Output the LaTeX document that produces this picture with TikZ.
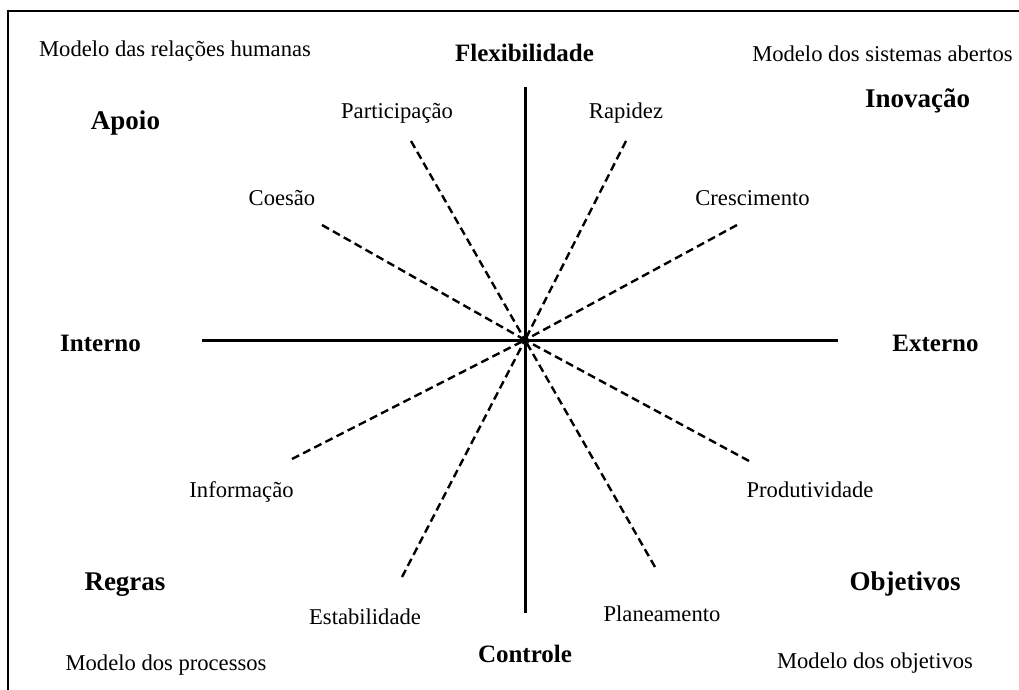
\documentclass[tikz,border=0pt]{standalone}
\usepackage{fontspec}
\setmainfont{Liberation Serif}
\begin{document}
\begin{tikzpicture}[x=1pt,y=-1pt,
  lbl/.style={inner sep=0pt,anchor=base,font=\fontsize{22.6}{27}\selectfont},
  axislbl/.style={inner sep=0pt,anchor=base,font=\fontsize{25}{30}\selectfont\bfseries},
  quadlbl/.style={inner sep=0pt,anchor=base,font=\fontsize{27}{32}\selectfont\bfseries},
  axisline/.style={line width=3pt},
  spoke/.style={line width=2.4pt,dash pattern=on 8pt off 4.5pt},
  frameline/.style={line width=1.7pt}]
\useasboundingbox (0,0) rectangle (1019,690);

% open frame: top and left edges only
\coordinate (fbl) at (8.3,690);
\coordinate (ftr) at (1019,10.8);
\draw[frameline] (fbl) |- (ftr);

% model names in the corners
\node[lbl] (mrh) at (175,57) {Modelo das relações humanas};
\node[lbl] (msa) at (882.5,62) {Modelo dos sistemas abertos};
\node[lbl] (mp)  at (166,670) {Modelo dos processos};
\node[lbl] (mo)  at (875,668) {Modelo dos objetivos};

% quadrant values
\node[quadlbl] (apoio)  at (125.5,129) {Apoio};
\node[quadlbl] (inov)   at (917.5,108) {Inovação};
\node[quadlbl] (regras) at (125,590) {Regras};
\node[quadlbl] (obj)    at (905,590) {Objetivos};

% axis labels
\node[axislbl] (flex)  at (524.5,62) {Flexibilidade};
\node[axislbl] (ctrl)  at (525,662) {Controle};
\node[axislbl] (int)   at (100.5,351) {Interno};
\node[axislbl] (ext)   at (935.5,351) {Externo};

% axes
\coordinate (c) at (525,340);
\coordinate (vtop) at (525,87);
\coordinate (vbot) at (525,613);
\coordinate (hl) at (202,340);
\coordinate (hr) at (838,340);
\draw[axisline] (vtop) -- (vbot);
\draw[axisline] (hl) -- (hr);

% spoke labels
\node[lbl] (part)  at (397,118) {Participação};
\node[lbl] (rap)   at (626,118) {Rapidez};
\node[lbl] (coes)  at (282,205) {Coesão};
\node[lbl] (cresc) at (752.5,205) {Crescimento};
\node[lbl] (info)  at (241.5,497) {Informação};
\node[lbl] (prod)  at (810,497) {Produtividade};
\node[lbl] (estab) at (365,624) {Estabilidade};
\node[lbl] (plan)  at (662,621) {Planeamento};

% spoke ends
\coordinate (sPart)  at (411,141);
\coordinate (sRap)   at (626,141);
\coordinate (sCoes)  at (322,225);
\coordinate (sCresc) at (737,225);
\coordinate (sInfo)  at (292,459);
\coordinate (sProd)  at (749,461);
\coordinate (sEstab) at (402,577);
\coordinate (sPlan)  at (655,567);

\foreach \e in {sPart,sRap,sCoes,sCresc,sInfo,sProd,sEstab,sPlan}
  \draw[spoke] (\e) -- (c);
\end{tikzpicture}
\end{document}
